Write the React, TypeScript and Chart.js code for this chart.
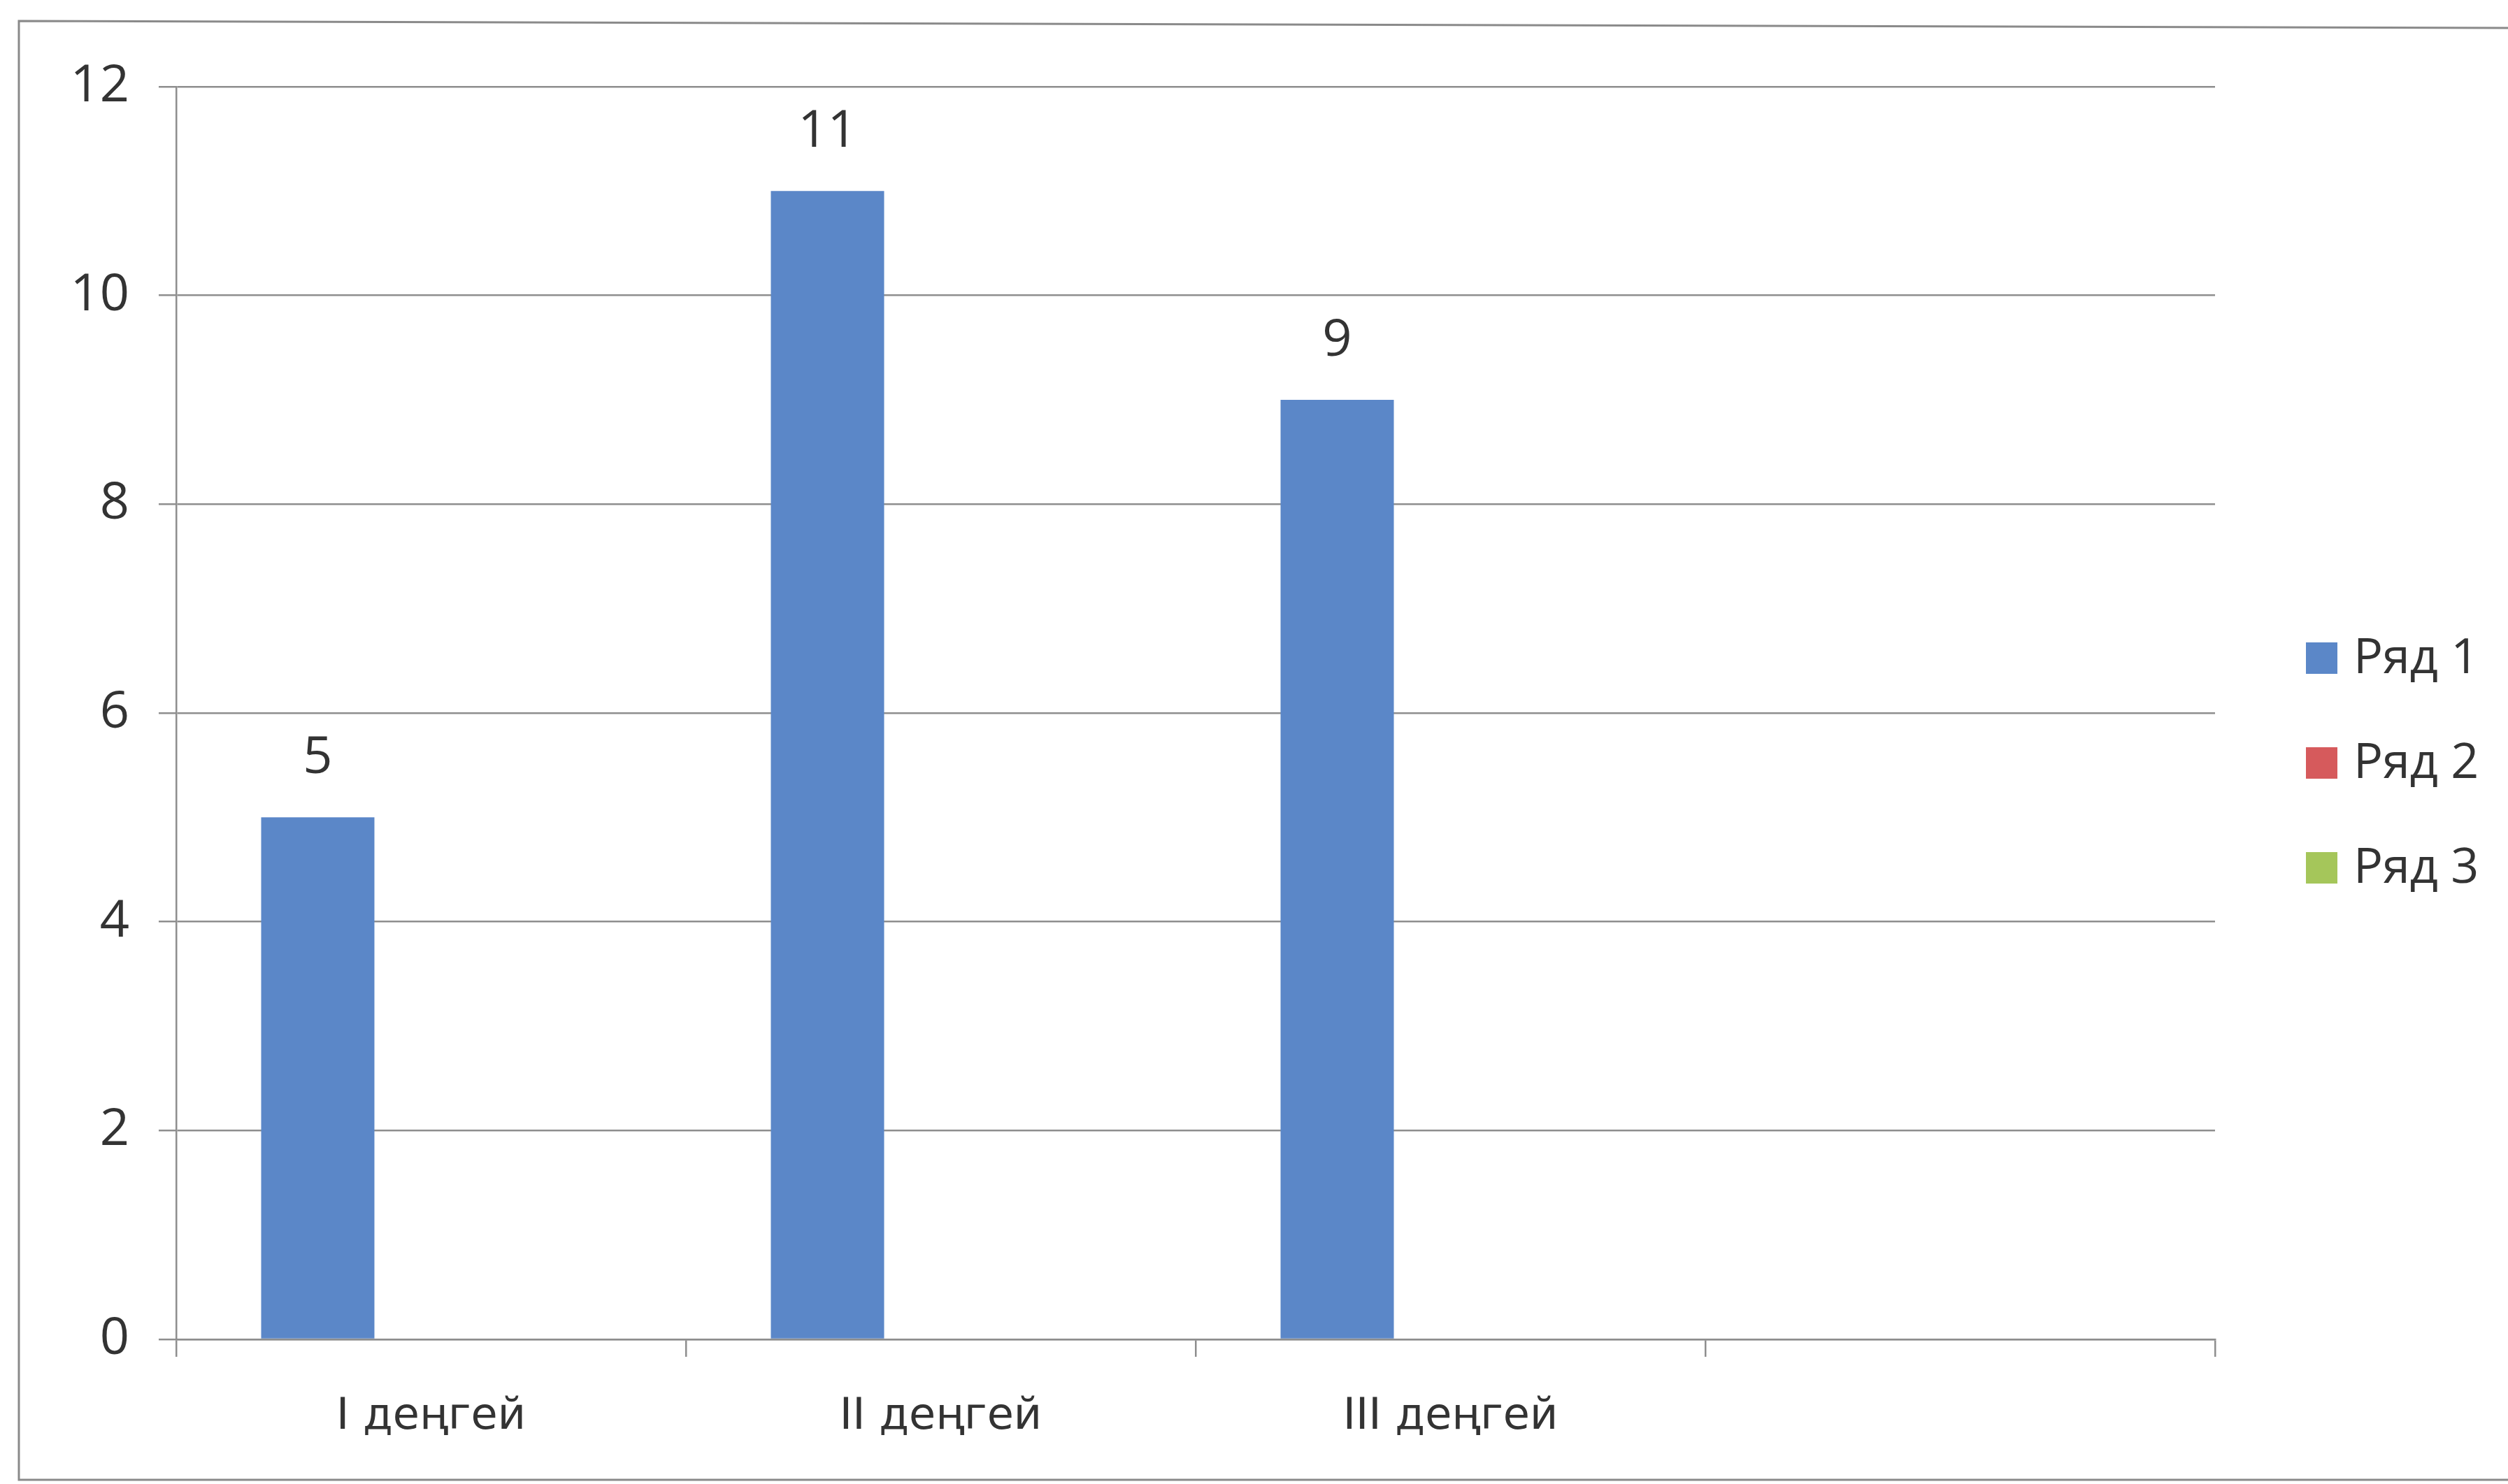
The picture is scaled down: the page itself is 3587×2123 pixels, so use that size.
import React, { useEffect, useRef } from "react";
import { Chart, registerables } from "chart.js";

Chart.register(...registerables);

// ---- data ----
const categories = ["I деңгей", "II деңгей", "III деңгей", ""];
const seriesNames = ["Ряд 1", "Ряд 2", "Ряд 3"];
const series1 = [5, 11, 9, null];
const series2 = [null, null, null, null];
const series3 = [null, null, null, null];
const yTicks = [0, 2, 4, 6, 8, 10, 12];

// ---- styles ----
const seriesColors = ["#5B87C8", "#D65A5C", "#A5C65A"];
const TEXT = "#333333";
const GRID = "#8E8E8E";
const FRAME = "#8A8A8A";
const W = 3587;
const H = 2123;

const framePlugin = {
  id: "frame",
  beforeDraw(chart: any) {
    const ctx = chart.ctx;
    ctx.save();
    ctx.fillStyle = "#FFFFFF";
    ctx.fillRect(0, 0, chart.width, chart.height);
    ctx.strokeStyle = FRAME;
    ctx.lineWidth = 3;
    ctx.beginPath();
    ctx.moveTo(W, 40);
    ctx.lineTo(27, 30);
    ctx.lineTo(27, 2117);
    ctx.lineTo(W, 2117);
    ctx.stroke();
    ctx.restore();
  },
};

const valueLabels = {
  id: "valueLabels",
  afterDatasetsDraw(chart: any) {
    const ctx = chart.ctx;
    ctx.save();
    ctx.font = "74px 'Open Sans', sans-serif";
    ctx.fillStyle = TEXT;
    ctx.textAlign = "center";
    ctx.textBaseline = "middle";
    chart.data.datasets.forEach((ds: any, i: number) => {
      const meta = chart.getDatasetMeta(i);
      meta.data.forEach((bar: any, j: number) => {
        const v = ds.data[j];
        if (v === null || v === undefined) return;
        ctx.fillText(String(v), bar.x, bar.y - 84);
      });
    });
    ctx.restore();
  },
};

const sideLegend = {
  id: "sideLegend",
  afterDraw(chart: any) {
    const ctx = chart.ctx;
    ctx.save();
    ctx.font = "70px 'Open Sans', sans-serif";
    ctx.textBaseline = "middle";
    ctx.textAlign = "left";
    chart.data.datasets.forEach((ds: any, i: number) => {
      const cy = 941 + i * 150;
      ctx.fillStyle = ds.backgroundColor;
      ctx.fillRect(3298, cy - 22, 45, 45);
      ctx.fillStyle = TEXT;
      ctx.fillText(ds.label, 3366, cy + 2);
    });
    ctx.restore();
  },
};

export default function App() {
  const canvasRef = useRef<HTMLCanvasElement | null>(null);

  useEffect(() => {
    let chart: Chart | null = null;
    let cancelled = false;
    const make = () => {
      if (cancelled || !canvasRef.current) return;
      chart = new Chart(canvasRef.current, {
        type: "bar",
        data: {
          labels: categories,
          datasets: [
            { label: seriesNames[0], data: series1, backgroundColor: seriesColors[0] },
            { label: seriesNames[1], data: series2, backgroundColor: seriesColors[1] },
            { label: seriesNames[2], data: series3, backgroundColor: seriesColors[2] },
          ],
        },
        options: {
          responsive: false,
          animation: false,
          devicePixelRatio: 1,
          datasets: { bar: { barPercentage: 1, categoryPercentage: 2 / 3 } },
          layout: { padding: { left: 0, top: 124, right: 419, bottom: 0 } },
          plugins: { legend: { display: false }, tooltip: { enabled: false } },
          scales: {
            x: {
              grid: {
                display: true,
                drawOnChartArea: false,
                drawTicks: true,
                tickLength: 25,
                color: GRID,
                lineWidth: 2.5,
                offset: true,
              },
              border: { display: true, color: GRID, width: 2.5 },
              ticks: {
                font: { family: "'DejaVu Sans', sans-serif", size: 62 },
                color: TEXT,
                padding: 50,
                maxRotation: 0,
                autoSkip: false,
              },
              afterFit: (s: any) => {
                s.height = H - 1916;
              },
            },
            y: {
              min: 0,
              max: 12,
              afterBuildTicks: (s: any) => {
                s.ticks = yTicks.map((v) => ({ value: v }));
              },
              ticks: {
                font: { family: "'Open Sans', sans-serif", size: 74 },
                color: TEXT,
                padding: 42,
              },
              grid: { color: GRID, lineWidth: 2.5, tickLength: 25, drawTicks: true },
              border: { display: true, color: GRID, width: 2.5 },
              afterFit: (s: any) => {
                s.width = 252;
              },
            },
          },
        },
        plugins: [framePlugin, valueLabels, sideLegend],
      } as any);
    };
    const fontsReady = (document as any).fonts
      ? Promise.all([
          (document as any).fonts.load("74px 'Open Sans'"),
          (document as any).fonts.load("62px 'DejaVu Sans'"),
        ]).catch(() => null)
      : Promise.resolve(null);
    fontsReady.then(make);
    return () => {
      cancelled = true;
      if (chart) chart.destroy();
    };
  }, []);

  return (
    <div style={{ position: "fixed", left: 0, top: 0, width: W, height: H, background: "#fff" }}>
      <canvas ref={canvasRef} width={W} height={H} style={{ width: W, height: H, display: "block" }} />
    </div>
  );
}
